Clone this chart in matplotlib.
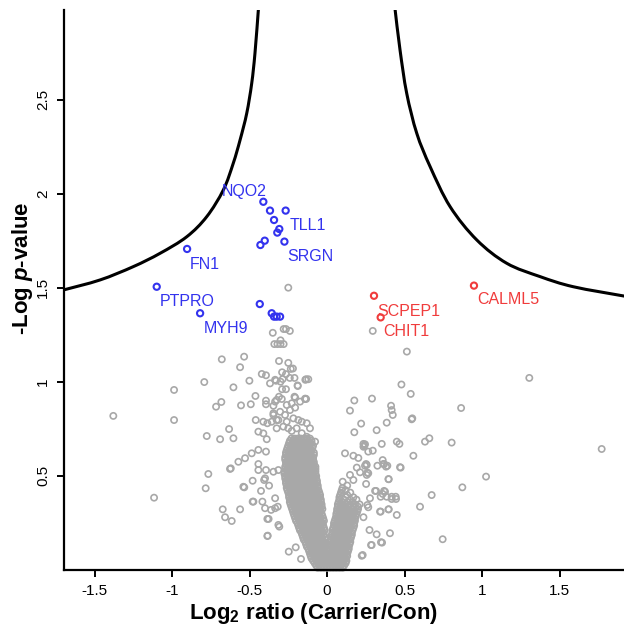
import matplotlib
matplotlib.use("Agg")
import matplotlib.pyplot as plt
from matplotlib.path import Path
from matplotlib.patches import PathPatch

plt.rcParams['font.family'] = ['Liberation Sans', 'DejaVu Sans']
plt.rcParams['mathtext.fontset'] = 'custom'
plt.rcParams['mathtext.rm'] = 'Liberation Sans:bold'
plt.rcParams['mathtext.bf'] = 'Liberation Sans:bold'
plt.rcParams['mathtext.it'] = 'Liberation Sans:bold:italic'

# threshold curve
curve_lx = [-1.70, -1.465, -1.25, -1.077, -0.905, -0.776, -0.669, -0.605, -0.561, -0.518, -0.486, -0.465, -0.443]
curve_ly = [1.488, 1.541, 1.612, 1.683, 1.771, 1.878, 2.020, 2.162, 2.286, 2.428, 2.587, 2.747, 2.98]
curve_rx = [0.439, 0.471, 0.514, 0.579, 0.665, 0.794, 0.966, 1.159, 1.374, 1.589, 1.92]
curve_ry = [2.98, 2.764, 2.534, 2.321, 2.144, 1.931, 1.754, 1.630, 1.559, 1.505, 1.455]

# significant proteins
blue_x = [-0.411, -0.368, -0.267, -0.342, -0.308, -0.321, -0.402, -0.430, -0.275, -0.903, -1.099, -0.819,
          -0.434, -0.357, -0.342, -0.325, -0.303]
blue_y = [1.957, 1.910, 1.910, 1.860, 1.812, 1.793, 1.750, 1.727, 1.745, 1.706, 1.505, 1.364,
          1.413, 1.364, 1.346, 1.346, 1.346]
red_x = [0.303, 0.346, 0.948]
red_y = [1.457, 1.342, 1.511]

blue_labels = ['NQO2', 'TLL1', 'SRGN', 'FN1', 'PTPRO', 'MYH9']
blue_lx = [-0.68, -0.243, -0.256, -0.884, -1.077, -0.798]
blue_ly = [2.01, 1.833, 1.665, 1.624, 1.426, 1.284]
red_labels = ['SCPEP1', 'CHIT1', 'CALML5']
red_lx = [0.325, 0.363, 0.966]
red_ly = [1.372, 1.266, 1.435]

# scattered grey proteins
gx = [-0.25, -0.35, -0.28, -0.265, -0.24, -0.30, -0.34, -0.32, -0.30, -0.28, -0.31, -0.25, -0.22, -0.29,
      -0.265, -0.24, -0.21, -0.14, -0.335, -0.30, -0.19, -0.29, -0.21, -0.14, -0.31,
      0.295, 0.515, 1.305, 0.48, 0.54, 0.29, 0.176, 0.865, 0.413, 0.417, 0.424, 0.148, 0.546, 0.55,
      0.385, 0.22, 0.176, 0.32, 0.804, 0.632, 0.66, 1.772, 0.45, 0.467, 0.353, 0.235, 0.24, 0.116,
      0.17, 0.202, 0.295, 0.266, 0.557, 0.471, 0.325, 0.363, 0.389, 0.245, 0.266, 1.026, 0.873,
      0.675, 0.396, 0.6, 0.443, 0.417, 0.374, 0.316, 0.45, 0.396, 0.342, 0.406, 0.348, 0.746,
      0.224, 0.284, 0.32, 0.359, 0.368, 0.381, 0.475, 0.252, 0.26, 0.398, 0.252, 0.31, 0.368,
      0.359, 0.346, 0.385, 0.417, 0.445, 0.277, 0.26, 0.266, 0.346, 0.398, 0.235, 0.274, 0.288,
      0.355, 0.23, 0.245, 0.235, 0.256, 0.192, 0.148, 0.101, 0.17, 0.213, 0.256,
      -1.379, -0.987, -0.987, -1.116, -0.792, -0.679, -0.535, -0.561, -0.604, -0.501, -0.421,
      -0.394, -0.368, -0.329, -0.716, -0.682, -0.555, -0.492, -0.462, -0.394, -0.394, -0.346,
      -0.325, -0.46, -0.411, -0.385, -0.346, -0.325, -0.776, -0.69, -0.632, -0.604, -0.443,
      -0.411, -0.389, -0.572, -0.529, -0.486, -0.443, -0.394, -0.766, -0.783, -0.621, -0.54,
      -0.48, -0.374, -0.426, -0.48, -0.417, -0.40, -0.361, -0.335, -0.673, -0.658, -0.615,
      -0.561, -0.385, -0.385, -0.314, -0.443, -0.443, -0.394, -0.40, -0.406, -0.346, -0.314,
      -0.626, -0.534, -0.475, -0.383, -0.377, -0.318, -0.308, -0.247, -0.168, -0.202, -0.335,
      -0.292, -0.335, -0.206, -0.142, -0.346, -0.303, -0.271, -0.239, -0.206, -0.217, -0.185,
      -0.163, -0.325, -0.282, -0.25, -0.228, -0.196, -0.163, -0.131, -0.077, -0.26, -0.228,
      -0.174, -0.357, -0.11, -0.314, -0.26, -0.131, -0.135, -0.135, -0.121, -0.189, -0.265,
      -0.234, -0.286]
gy = [1.50, 1.26, 1.28, 1.28, 1.27, 1.22, 1.20, 1.20, 1.20, 1.20, 1.11, 1.10, 1.07, 1.05,
      1.04, 1.02, 1.02, 1.01, 1.01, 1.00, 0.98, 0.96, 0.92, 0.91, 0.92,
      1.27, 1.16, 1.02, 0.985, 0.935, 0.91, 0.90, 0.86, 0.872, 0.849, 0.823, 0.846, 0.80, 0.805,
      0.782, 0.777, 0.731, 0.742, 0.676, 0.681, 0.699, 0.642, 0.681, 0.669, 0.669, 0.669, 0.66, 0.619,
      0.606, 0.594, 0.633, 0.628, 0.606, 0.545, 0.553, 0.562, 0.553, 0.553, 0.513, 0.495, 0.438,
      0.397, 0.482, 0.335, 0.388, 0.388, 0.415, 0.419, 0.291, 0.321, 0.309, 0.194, 0.146, 0.162,
      0.074, 0.131, 0.188, 0.583, 0.562, 0.548, 0.543, 0.562, 0.516, 0.481, 0.456, 0.419, 0.419,
      0.403, 0.388, 0.388, 0.376, 0.376, 0.38, 0.344, 0.332, 0.309, 0.321, 0.279, 0.211, 0.131,
      0.144, 0.078, 0.667, 0.654, 0.557, 0.543, 0.504, 0.468, 0.477, 0.518, 0.504,
      0.818, 0.956, 0.796, 0.383, 0.998, 1.119, 1.133, 1.077, 0.970, 1.005, 1.041,
      1.034, 0.991, 1.005, 0.867, 0.892, 0.874, 0.880, 0.924, 0.899, 0.88, 0.872,
      0.903, 0.796, 0.787, 0.779, 0.823, 0.796, 0.711, 0.694, 0.748, 0.699, 0.734,
      0.725, 0.694, 0.574, 0.593, 0.619, 0.637, 0.628, 0.509, 0.433, 0.539, 0.441,
      0.473, 0.447, 0.419, 0.362, 0.362, 0.327, 0.318, 0.327, 0.321, 0.279, 0.259,
      0.321, 0.270, 0.179, 0.238, 0.562, 0.53, 0.53, 0.486, 0.477, 0.521, 0.530,
      0.536, 0.438, 0.362, 0.181, 0.270, 0.335, 0.229, 0.096, 0.057, 0.119, 0.380,
      0.908, 0.894, 0.915, 0.908, 0.832, 0.840, 0.823, 0.849, 0.862, 0.805, 0.796,
      0.787, 0.752, 0.761, 0.752, 0.738, 0.752, 0.726, 0.707, 0.681, 0.876, 0.885,
      0.894, 0.787, 0.752, 0.796, 0.787, 0.779, 1.013, 0.908, 1.013, 0.977, 0.960,
      1.068, 1.014]

# dense V-shaped core, one row of x values per -log p level
core_y = [0.01, 0.0225, 0.035, 0.0475, 0.06, 0.0725, 0.085, 0.0975, 0.11, 0.1225, 0.135, 0.1475,
          0.16, 0.1725, 0.185, 0.1975, 0.21, 0.2225, 0.235, 0.2475, 0.26, 0.2725, 0.285, 0.2975,
          0.31, 0.3225, 0.335, 0.3475, 0.36, 0.3725, 0.385, 0.3975, 0.41, 0.4225, 0.435, 0.4475,
          0.46, 0.4725, 0.485, 0.4975, 0.51, 0.5225, 0.535, 0.5475, 0.56, 0.5725, 0.585, 0.5975,
          0.61, 0.6225, 0.635, 0.6475, 0.66, 0.6725, 0.685, 0.6975]
core_x = [
    [-0.06, -0.04, -0.02, 0.0, 0.02, 0.04, 0.06, 0.08, 0.10],
    [-0.07, -0.05, -0.03, -0.01, 0.01, 0.03, 0.05, 0.07, 0.09, 0.11],
    [-0.08, -0.06, -0.04, -0.02, 0.0, 0.02, 0.04, 0.06, 0.08, 0.10, 0.12],
    [-0.09, -0.07, -0.05, -0.03, -0.01, 0.01, 0.03, 0.05, 0.07, 0.09, 0.11, 0.125],
    [-0.10, -0.08, -0.06, -0.04, -0.02, 0.0, 0.02, 0.04, 0.06, 0.08, 0.10, 0.12],
    [-0.105, -0.085, -0.065, -0.045, -0.025, -0.005, 0.015, 0.035, 0.055, 0.075, 0.095, 0.115, 0.13],
    [-0.11, -0.09, -0.07, -0.05, -0.03, -0.01, 0.01, 0.03, 0.05, 0.07, 0.09, 0.11, 0.13],
    [-0.115, -0.095, -0.075, -0.055, -0.035, -0.015, 0.015, 0.035, 0.055, 0.075, 0.095, 0.115, 0.135],
    [-0.12, -0.10, -0.08, -0.06, -0.04, -0.02, -0.005, 0.02, 0.04, 0.06, 0.08, 0.10, 0.12, 0.14],
    [-0.13, -0.11, -0.09, -0.07, -0.05, -0.03, -0.01, 0.025, 0.045, 0.065, 0.085, 0.105, 0.125, 0.14],
    [-0.135, -0.115, -0.095, -0.075, -0.055, -0.035, -0.015, 0.02, 0.04, 0.06, 0.08, 0.10, 0.12, 0.145],
    [-0.14, -0.12, -0.10, -0.08, -0.06, -0.04, -0.02, 0.025, 0.045, 0.065, 0.085, 0.105, 0.125, 0.15],
    [-0.15, -0.13, -0.11, -0.09, -0.07, -0.05, -0.03, -0.01, 0.025, 0.045, 0.065, 0.085, 0.105, 0.125, 0.15],
    [-0.155, -0.135, -0.115, -0.095, -0.075, -0.055, -0.035, -0.015, 0.03, 0.05, 0.07, 0.09, 0.11, 0.13, 0.155],
    [-0.16, -0.14, -0.12, -0.10, -0.08, -0.06, -0.04, -0.02, 0.03, 0.05, 0.07, 0.09, 0.11, 0.13, 0.16],
    [-0.165, -0.145, -0.125, -0.105, -0.085, -0.065, -0.045, -0.025, 0.035, 0.055, 0.075, 0.095, 0.115, 0.135, 0.16],
    [-0.175, -0.155, -0.135, -0.115, -0.095, -0.075, -0.055, -0.035, -0.015, 0.035, 0.055, 0.075, 0.095, 0.115,
     0.135, 0.165],
    [-0.18, -0.16, -0.14, -0.12, -0.10, -0.08, -0.06, -0.04, -0.02, 0.04, 0.06, 0.08, 0.10, 0.12, 0.14, 0.17],
    [-0.185, -0.165, -0.145, -0.125, -0.105, -0.085, -0.065, -0.045, -0.025, 0.045, 0.065, 0.085, 0.105, 0.125,
     0.145, 0.175],
    [-0.19, -0.17, -0.15, -0.13, -0.11, -0.09, -0.07, -0.05, -0.03, 0.045, 0.065, 0.085, 0.105, 0.125, 0.15, 0.175],
    [-0.20, -0.18, -0.16, -0.14, -0.12, -0.10, -0.08, -0.06, -0.04, -0.02, 0.05, 0.07, 0.09, 0.11, 0.13, 0.155, 0.18],
    [-0.205, -0.185, -0.165, -0.145, -0.125, -0.105, -0.085, -0.065, -0.045, -0.025, 0.055, 0.075, 0.095, 0.115,
     0.135, 0.16, 0.18],
    [-0.21, -0.19, -0.17, -0.15, -0.13, -0.11, -0.09, -0.07, -0.05, -0.03, 0.06, 0.08, 0.10, 0.12, 0.14, 0.165, 0.185],
    [-0.215, -0.195, -0.175, -0.155, -0.135, -0.115, -0.095, -0.075, -0.055, -0.035, 0.06, 0.08, 0.10, 0.12, 0.145,
     0.17, 0.19],
    [-0.22, -0.20, -0.18, -0.16, -0.14, -0.12, -0.10, -0.08, -0.06, -0.04, 0.065, 0.085, 0.105, 0.125, 0.15, 0.175,
     0.195],
    [-0.225, -0.205, -0.185, -0.165, -0.145, -0.125, -0.105, -0.085, -0.065, -0.045, -0.03, 0.065, 0.085, 0.11,
     0.135, 0.16, 0.20],
    [-0.23, -0.21, -0.19, -0.17, -0.15, -0.13, -0.11, -0.09, -0.07, -0.05, -0.035, 0.07, 0.09, 0.115, 0.14, 0.17, 0.20],
    [-0.235, -0.215, -0.195, -0.175, -0.155, -0.135, -0.115, -0.095, -0.075, -0.055, -0.035, 0.07, 0.095, 0.12,
     0.15, 0.18, 0.21],
    [-0.24, -0.22, -0.20, -0.18, -0.16, -0.14, -0.12, -0.10, -0.08, -0.06, -0.04, 0.075, 0.10, 0.13, 0.165],
    [-0.24, -0.22, -0.20, -0.18, -0.16, -0.14, -0.12, -0.10, -0.08, -0.06, -0.04, 0.08, 0.11, 0.15, 0.19],
    [-0.245, -0.225, -0.205, -0.185, -0.165, -0.145, -0.125, -0.105, -0.085, -0.065, -0.045, 0.08, 0.12, 0.17],
    [-0.245, -0.225, -0.205, -0.185, -0.165, -0.145, -0.125, -0.105, -0.085, -0.065, -0.045, 0.085, 0.13],
    [-0.25, -0.23, -0.21, -0.19, -0.17, -0.15, -0.13, -0.11, -0.09, -0.07, -0.05, 0.09, 0.15],
    [-0.255, -0.235, -0.215, -0.195, -0.175, -0.155, -0.135, -0.115, -0.095, -0.075, -0.055, 0.095, 0.12],
    [-0.26, -0.24, -0.22, -0.20, -0.18, -0.16, -0.14, -0.12, -0.10, -0.08, -0.06, 0.10],
    [-0.26, -0.24, -0.22, -0.20, -0.18, -0.16, -0.14, -0.12, -0.10, -0.08, -0.06, 0.13],
    [-0.265, -0.245, -0.225, -0.205, -0.185, -0.165, -0.145, -0.125, -0.105, -0.085, -0.065],
    [-0.265, -0.245, -0.225, -0.205, -0.185, -0.165, -0.145, -0.125, -0.105, -0.085, -0.065],
    [-0.27, -0.25, -0.23, -0.21, -0.19, -0.17, -0.15, -0.13, -0.11, -0.09, -0.07],
    [-0.27, -0.25, -0.23, -0.21, -0.19, -0.17, -0.15, -0.13, -0.11, -0.09, -0.07],
    [-0.275, -0.255, -0.235, -0.215, -0.195, -0.175, -0.155, -0.135, -0.115, -0.095, -0.075],
    [-0.275, -0.255, -0.235, -0.215, -0.195, -0.175, -0.155, -0.135, -0.115, -0.095, -0.075],
    [-0.27, -0.25, -0.23, -0.21, -0.19, -0.17, -0.15, -0.13, -0.11, -0.09, -0.075],
    [-0.27, -0.25, -0.23, -0.21, -0.19, -0.17, -0.15, -0.13, -0.11, -0.09, -0.075],
    [-0.265, -0.245, -0.225, -0.205, -0.185, -0.165, -0.145, -0.125, -0.105, -0.085],
    [-0.265, -0.245, -0.225, -0.205, -0.185, -0.165, -0.145, -0.125, -0.105, -0.085],
    [-0.27, -0.25, -0.23, -0.21, -0.19, -0.17, -0.15, -0.13, -0.11, -0.09],
    [-0.27, -0.25, -0.23, -0.21, -0.19, -0.17, -0.15, -0.13, -0.11, -0.09],
    [-0.265, -0.245, -0.225, -0.205, -0.185, -0.165, -0.145, -0.125, -0.105, -0.085],
    [-0.265, -0.245, -0.225, -0.205, -0.185, -0.165, -0.145, -0.125, -0.105, -0.085],
    [-0.26, -0.24, -0.22, -0.20, -0.18, -0.16, -0.14, -0.12, -0.10],
    [-0.255, -0.235, -0.215, -0.195, -0.175, -0.155, -0.135, -0.115, -0.095],
    [-0.25, -0.23, -0.21, -0.19, -0.17, -0.15, -0.13, -0.11, -0.09],
    [-0.245, -0.225, -0.205, -0.185, -0.165, -0.145, -0.125, -0.105],
    [-0.24, -0.22, -0.20, -0.18, -0.16, -0.14, -0.12, -0.10],
    [-0.23, -0.21, -0.19, -0.17, -0.15, -0.13, -0.11],
]

xticks = [-1.5, -1, -0.5, 0, 0.5, 1, 1.5]
xtick_labels = ['-1.5', '-1', '-0.5', '0', '0.5', '1', '1.5']
yticks = [0.5, 1, 1.5, 2, 2.5]
ytick_labels = ['0.5', '1', '1.5', '2', '2.5']

grey = '#a8a8a8'
blue = '#3333ee'
red = '#f03c3c'


def smooth_line(xs, ys):
    # draw the read points as one smooth stroke (Catmull-Rom as cubic Bezier)
    pts = list(zip(xs, ys))
    verts = [pts[0]]
    codes = [Path.MOVETO]
    n = len(pts)
    for i in range(n - 1):
        p0 = pts[max(i - 1, 0)]
        p1 = pts[i]
        p2 = pts[i + 1]
        p3 = pts[min(i + 2, n - 1)]
        c1 = (p1[0] + (p2[0] - p0[0]) / 6, p1[1] + (p2[1] - p0[1]) / 6)
        c2 = (p2[0] - (p3[0] - p1[0]) / 6, p2[1] - (p3[1] - p1[1]) / 6)
        verts += [c1, c2, p2]
        codes += [Path.CURVE4] * 3
    return PathPatch(Path(verts, codes), facecolor='none', edgecolor='black', lw=2.2, zorder=4)


fig = plt.figure(figsize=(6.24, 6.29), dpi=100)
ax = fig.add_axes([0.1026, 0.0943, 0.8974, 0.8898])

cx = []
cy = []
for yv, row in zip(core_y, core_x):
    for xv in row:
        cx.append(xv)
        cy.append(yv)

ax.scatter(cx, cy, s=20, facecolors='none', edgecolors=grey, linewidths=1.2, clip_on=False, zorder=2)
ax.scatter(gx, gy, s=20, facecolors='none', edgecolors=grey, linewidths=1.2, zorder=2)
ax.scatter(blue_x, blue_y, s=20, facecolors='none', edgecolors=blue, linewidths=1.5, zorder=3)
ax.scatter(red_x, red_y, s=20, facecolors='none', edgecolors=red, linewidths=1.5, zorder=3)

ax.add_patch(smooth_line(curve_lx, curve_ly))
ax.add_patch(smooth_line(curve_rx, curve_ry))

for t, x, y in zip(blue_labels, blue_lx, blue_ly):
    ax.text(x, y, t, color=blue, fontsize=11.5, ha='left', va='center', zorder=5)
for t, x, y in zip(red_labels, red_lx, red_ly):
    ax.text(x, y, t, color=red, fontsize=11.5, ha='left', va='center', zorder=5)

ax.set_xlim(-1.697, 1.916)
ax.set_ylim(0, 2.977)
ax.set_xticks(xticks)
ax.set_xticklabels(xtick_labels, fontsize=11)
ax.set_yticks(yticks)
ax.set_yticklabels(ytick_labels, fontsize=11, rotation=90, va='center')

for s in ['top', 'right']:
    ax.spines[s].set_visible(False)
for s in ['left', 'bottom']:
    ax.spines[s].set_linewidth(1.6)
ax.tick_params(axis='both', direction='out', length=5, width=1.4, pad=5)

ax.set_xlabel(r'Log$_{\mathbf{2}}$ ratio (Carrier/Con)', fontsize=16, fontweight='bold', va='center')
ax.set_ylabel(r'-Log $\mathit{p}$-value', fontsize=16, fontweight='bold', va='center')
ax.xaxis.set_label_coords(0.445, -0.078)
ax.yaxis.set_label_coords(-0.075, 0.538)

fig.savefig('out.png', dpi=100)
